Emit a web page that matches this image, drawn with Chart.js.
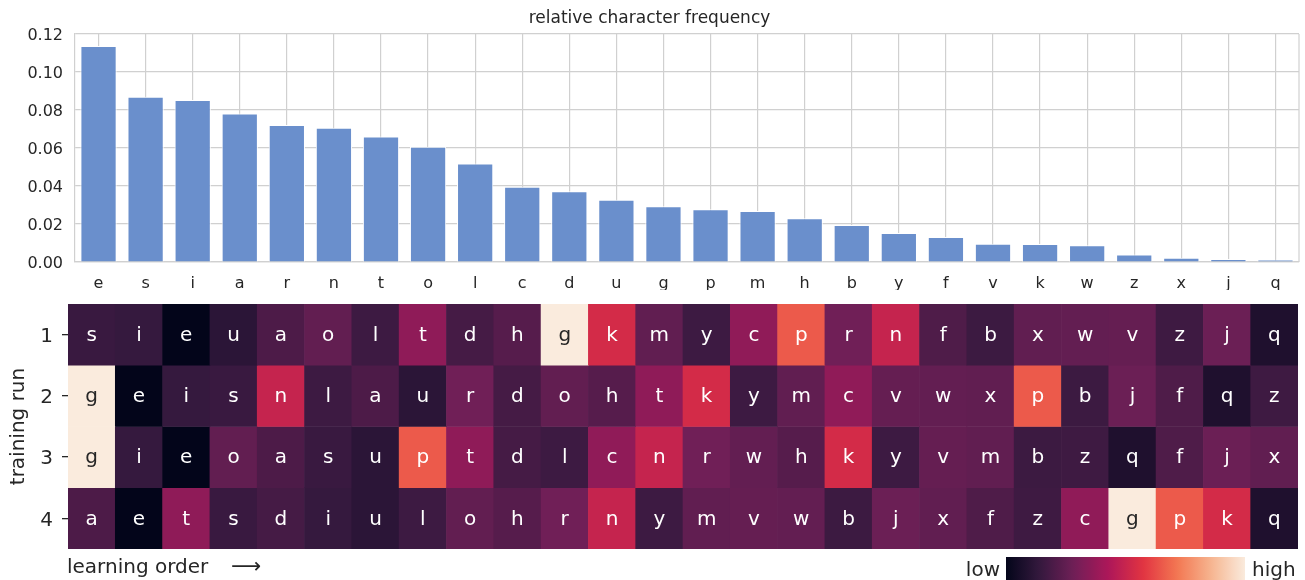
<!DOCTYPE html>
<html>
<head>
<meta charset="utf-8">
<script src="https://cdn.jsdelivr.net/npm/chart.js@4.4.1/dist/chart.umd.min.js"></script>
<style>
    html, body { margin: 0; padding: 0; background: #fff; }
    #wrap { position: relative; width: 1305px; height: 580px; }
    #freqChart { position: absolute; left: 0; top: 0; }
    #orderChart { position: absolute; left: 0; top: 290px; }
</style>
</head>
<body>
<div id="wrap">
    <canvas id="freqChart" width="1305" height="290"></canvas>
    <canvas id="orderChart" width="1305" height="290"></canvas>
</div>
<script>
// Bar chart: characters sorted by frequency
const letters = ['e', 's', 'i', 'a', 'r', 'n', 't', 'o', 'l', 'c', 'd', 'u', 'g',
                 'p', 'm', 'h', 'b', 'y', 'f', 'v', 'k', 'w', 'z', 'x', 'j', 'q'];
const frequency = [0.1137, 0.0870, 0.0853, 0.0782, 0.0721, 0.0707, 0.0661, 0.0607, 0.0519,
                   0.0396, 0.0372, 0.0328, 0.0293, 0.0277, 0.0268, 0.0230, 0.0195, 0.0153,
                   0.0132, 0.0096, 0.0095, 0.0088, 0.0040, 0.0023, 0.0016, 0.0012];
const freqTicks = [0, 0.02, 0.04, 0.06, 0.08, 0.10, 0.12];

// Heatmap: order in which each training run learned the characters
const runLabels = ['1', '2', '3', '4'];
const run1 = ['s', 'i', 'e', 'u', 'a', 'o', 'l', 't', 'd', 'h', 'g', 'k', 'm', 'y', 'c', 'p', 'r', 'n', 'f', 'b', 'x', 'w', 'v', 'z', 'j', 'q'];
const run2 = ['g', 'e', 'i', 's', 'n', 'l', 'a', 'u', 'r', 'd', 'o', 'h', 't', 'k', 'y', 'm', 'c', 'v', 'w', 'x', 'p', 'b', 'j', 'f', 'q', 'z'];
const run3 = ['g', 'i', 'e', 'o', 'a', 's', 'u', 'p', 't', 'd', 'l', 'c', 'n', 'r', 'w', 'h', 'k', 'y', 'v', 'm', 'b', 'z', 'q', 'f', 'j', 'x'];
const run4 = ['a', 'e', 't', 's', 'd', 'i', 'u', 'l', 'o', 'h', 'r', 'n', 'y', 'm', 'v', 'w', 'b', 'j', 'x', 'f', 'z', 'c', 'g', 'p', 'k', 'q'];
const runs = [run1, run2, run3, run4];
// colour level per character (same order as letters), 0 = low, 1 = high
const heatLevel = [0.00, 0.153, 0.142, 0.201, 0.285, 0.495, 0.358, 0.252, 0.163, 0.36, 0.182, 0.114, 1.00,
                   0.655, 0.25, 0.223, 0.16, 0.163, 0.205, 0.258, 0.533, 0.255, 0.165, 0.25, 0.274, 0.08];

const FONT = 'DejaVu Sans';
const TEXT = '#262626';
const GRID = '#d0d0d0';

// rocket-like colormap
const rocketStops = ['#03051a', '#35193e', '#701f57', '#ad1759', '#e13342', '#f37651', '#f6b48f', '#faebdd'];
function hexRgb(h) {
    return [parseInt(h.slice(1, 3), 16), parseInt(h.slice(3, 5), 16), parseInt(h.slice(5, 7), 16)];
}
function rocketRgb(t) {
    const n = rocketStops.length - 1;
    const x = Math.min(Math.max(t, 0), 1) * n;
    const i = Math.min(Math.floor(x), n - 1);
    const f = x - i;
    const a = hexRgb(rocketStops[i]), b = hexRgb(rocketStops[i + 1]);
    return a.map((v, k) => Math.round(v + (b[k] - v) * f));
}
function rocket(t) {
    const c = rocketRgb(t);
    return 'rgb(' + c.join(',') + ')';
}
function levelOf(ch) {
    return heatLevel[letters.indexOf(ch)];
}

// right border of the top plot
const framePlugin = {
    id: 'frame',
    beforeDatasetsDraw(chart) {
        const a = chart.chartArea, ctx = chart.ctx;
        ctx.save();
        ctx.strokeStyle = GRID;
        ctx.lineWidth = 1.2;
        ctx.beginPath();
        ctx.moveTo(a.right, a.top);
        ctx.lineTo(a.right, a.bottom);
        ctx.stroke();
        ctx.restore();
    }
};

new Chart(document.getElementById('freqChart').getContext('2d'), {
    type: 'bar',
    data: {
        labels: letters,
        datasets: [{
            data: frequency,
            backgroundColor: '#6a8fcc',
            borderColor: '#ffffff',
            borderWidth: 1,
            barPercentage: 0.77,
            categoryPercentage: 1
        }]
    },
    options: {
        responsive: false,
        animation: false,
        layout: { padding: { left: 0, right: 6, top: 0, bottom: 0 } },
        plugins: {
            legend: { display: false },
            tooltip: { enabled: false },
            title: {
                display: true,
                text: 'relative character frequency',
                color: TEXT,
                font: { family: FONT, size: 17, weight: 'normal' },
                padding: { top: 8, bottom: 5.6 }
            }
        },
        scales: {
            x: {
                grid: { offset: false, color: GRID, lineWidth: 1.2, drawTicks: false },
                border: { display: true, color: GRID, width: 1.2 },
                ticks: { color: TEXT, font: { family: FONT, size: 16 }, padding: 12 },
                afterFit: s => { s.height = 28; }
            },
            y: {
                min: 0,
                max: 0.12,
                afterBuildTicks: s => { s.ticks = freqTicks.map(v => ({ value: v })); },
                grid: { color: GRID, lineWidth: 1.2, drawTicks: false },
                border: { display: true, color: GRID, width: 1.2 },
                ticks: {
                    color: TEXT,
                    font: { family: FONT, size: 16 },
                    padding: 12,
                    labelOffset: 2,
                    callback: v => v.toFixed(2)
                },
                afterFit: s => { s.width = 75; s.paddingTop = 0; s.paddingBottom = 0; }
            }
        }
    },
    plugins: [framePlugin]
});

// letters inside heatmap cells
const cellLabelPlugin = {
    id: 'cellLabels',
    afterDatasetsDraw(chart) {
        const ctx = chart.ctx;
        ctx.save();
        ctx.font = '20px "' + FONT + '"';
        ctx.textAlign = 'center';
        ctx.textBaseline = 'middle';
        chart.data.datasets.forEach((ds, r) => {
            chart.getDatasetMeta(r).data.forEach((el, i) => {
                const ch = runs[r][i];
                const c = rocketRgb(levelOf(ch));
                const lum = (0.299 * c[0] + 0.587 * c[1] + 0.114 * c[2]) / 255;
                ctx.fillStyle = lum > 0.65 ? TEXT : '#ffffff';
                ctx.fillText(ch, el.x, (el.y + el.base) / 2 + 1);
            });
        });
        ctx.restore();
    }
};

// x caption and colour bar
const footerPlugin = {
    id: 'footer',
    afterDraw(chart) {
        const ctx = chart.ctx;
        ctx.save();
        ctx.font = '20px "' + FONT + '"';
        ctx.fillStyle = TEXT;
        ctx.textBaseline = 'alphabetic';
        ctx.textAlign = 'left';
        ctx.fillText('learning order', 67, 283);
        ctx.font = '21px "' + FONT + '"';
        ctx.fillText('\u27F6', 231, 283);

        const x0 = 1006, x1 = 1245, y0 = 267;
        const grad = ctx.createLinearGradient(x0, 0, x1, 0);
        for (let k = 0; k <= 40; k++) grad.addColorStop(k / 40, rocket(k / 40));
        ctx.fillStyle = grad;
        ctx.fillRect(x0, y0, x1 - x0, chart.height - y0);

        ctx.font = '20px "' + FONT + '"';
        ctx.fillStyle = TEXT;
        ctx.textAlign = 'right';
        ctx.fillText('low', 1000, 286);
        ctx.textAlign = 'left';
        ctx.fillText('high', 1252, 286);
        ctx.restore();
    }
};

new Chart(document.getElementById('orderChart').getContext('2d'), {
    type: 'bar',
    data: {
        labels: run1.map((_, i) => String(i + 1)),
        datasets: runs.map((run, r) => ({
            data: run.map(() => [r + 0.5, r + 1.5]),
            backgroundColor: run.map(ch => rocket(levelOf(ch))),
            borderWidth: 0,
            barPercentage: 1,
            categoryPercentage: 1
        }))
    },
    options: {
        responsive: false,
        animation: false,
        layout: { padding: { left: 0, right: 7, top: 14, bottom: 31 } },
        plugins: {
            legend: { display: false },
            tooltip: { enabled: false }
        },
        scales: {
            x: { display: false, stacked: false },
            y: {
                min: 0.5,
                max: 4.5,
                reverse: true,
                afterBuildTicks: s => { s.ticks = runLabels.map((_, i) => ({ value: i + 1 })); },
                grid: { drawOnChartArea: false, drawTicks: true, tickLength: 6, color: TEXT, lineWidth: 1.3 },
                border: { display: false },
                ticks: {
                    color: TEXT,
                    font: { family: FONT, size: 20 },
                    padding: 9,
                    labelOffset: 2,
                    callback: v => runLabels[v - 1]
                },
                title: {
                    display: true,
                    text: 'training run',
                    color: TEXT,
                    font: { family: FONT, size: 20 },
                    padding: { top: 7, bottom: 0 }
                },
                afterFit: s => { s.width = 68; s.paddingTop = 0; s.paddingBottom = 0; }
            }
        },
        datasets: { bar: { grouped: false } }
    },
    plugins: [cellLabelPlugin, footerPlugin]
});
</script>
</body>
</html>
